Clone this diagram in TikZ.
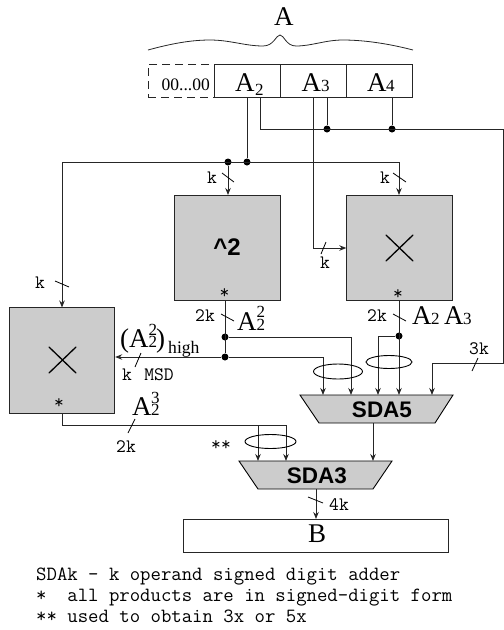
\documentclass[tikz,border=0pt]{standalone}
\usepackage{fontspec}
\setmainfont{Liberation Serif}
\setsansfont{Liberation Sans}
\usetikzlibrary{arrows.meta}
\colorlet{boxgray}{black!20}
\tikzset{
  wire/.style={draw=black!85,line width=0.9pt},
  arr/.style={wire,-{Stealth[length=7pt,width=5.5pt]}},
  dotnode/.style={circle,fill=black,inner sep=0pt,minimum size=7pt},
  reg/.style={draw=black!85,line width=0.9pt,minimum width=66pt,minimum height=33pt,inner sep=0pt},
  unit/.style={draw=black!85,line width=0.9pt,fill=boxgray,minimum width=105.5pt,minimum height=105.5pt,inner sep=0pt},
  adder/.style={draw=black,line width=0.9pt,fill=boxgray},
  lab/.style={inner sep=0pt,font=\ttfamily\fontsize{19}{19}\selectfont},
  big/.style={inner sep=0pt,anchor=base west,font=\fontsize{27}{27}\selectfont},
  dig/.style={inner sep=0pt,anchor=base west,font=\fontsize{17}{17}\selectfont},
  slash/.style={draw=black,line width=0.8pt},
  loopring/.style={draw=black,line width=0.9pt},
  sdatext/.style={inner sep=0pt,font=\sffamily\bfseries\fontsize{22.5}{22.5}\selectfont},
  note/.style={inner sep=0pt,anchor=base west,font=\ttfamily\fontsize{20.2}{20.2}\selectfont}
}
\begin{document}
\begin{tikzpicture}[x=1pt,y=-1pt]
\useasboundingbox (0,0) rectangle (504,630);
% brace
\node[big] (lblA) at (274,25) {A};
\draw[black!85,line width=0.8pt] (148,50) .. controls (170,44) and (190,40) .. (210,40) .. controls (230,40) and (245,46) .. (263,46) .. controls (274,46) and (276,35) .. (280,35) .. controls (284,35) and (286,46) .. (296,46) .. controls (312,46) and (325,40) .. (343,40) .. controls (365,40) and (390,44) .. (413,50);
% register
\node[draw=black!85,dashed,dash pattern=on 8pt off 5pt,line width=0.8pt,minimum width=66pt,minimum height=33pt,inner sep=0pt] (zero) at (181,80.5) {};
\node[inner sep=0pt,anchor=base west,font=\fontsize{17.5}{17.5}\selectfont] (zerotxt) at (161.5,90) {00...00};
\node[reg] (a2) at (247,80.5) {};
\node[reg] (a3) at (313,80.5) {};
\node[reg] (a4) at (379.5,80.5) {};
\node[big] at (235,91.5) {A};
\node[dig] at (255,95) {2};
\node[big] at (301.5,91.5) {A};
\node[dig] at (321,91) {3};
\node[big] at (367,91.5) {A};
\node[dig] at (386,91) {4};
% units
\node[unit] (sq) at (227.5,248) {};
\node[unit] (mul) at (399.5,248) {};
\node[unit] (mull) at (62,360.5) {};
\node[inner sep=0pt,font=\sffamily\bfseries\fontsize{24}{24}\selectfont] at (227,247) {\^{}2};
\draw[line width=1.3pt,line cap=round] (386,235) -- (413,261) (386,261) -- (413,235);
\draw[line width=1.3pt,line cap=round] (49,347) -- (76,373) (49,373) -- (76,347);
\node[lab,anchor=base] at (224.5,298) {*};
\node[lab,anchor=base] at (398,299) {*};
\node[lab,anchor=base] at (59,408) {*};
% adders
\path[adder] (300,395) -- (453,395) -- (435,423) -- (319,423) -- cycle;
\path[adder] (239,461) -- (392,461) -- (373,489) -- (258,489) -- cycle;
\node[sdatext] (t5) at (382,409.5) {SDA5};
\node[sdatext] (t3) at (317,475.5) {SDA3};
\coordinate (s5top1) at (323,395);
\coordinate (s5top2) at (351,395);
\coordinate (s5top3) at (378,395);
\coordinate (s5top4) at (399,395);
\coordinate (s5top5) at (432,395);
\coordinate (s5bot) at (373,423);
\coordinate (s3top1) at (258,461);
\coordinate (s3top2) at (286,461);
\coordinate (s3top3) at (373,461);
% output
\node[draw=black!85,line width=0.9pt,minimum width=265pt,minimum height=33pt,inner sep=0pt] (b) at (315.5,535.5) {};
\node[big] at (308,542) {B};
% dots
\node[dotnode] (d1) at (247,162) {};
\node[dotnode] (d2) at (228,162) {};
\node[dotnode] (d3) at (327,129) {};
\node[dotnode] (d4) at (392,129) {};
\node[dotnode] (d5) at (225,337) {};
\node[dotnode] (d6) at (225,357) {};
\node[dotnode] (d7) at (399,336) {};
% connectors
\draw[wire] (247,97) -- (d1);
\draw[arr] (d2) -- (228,195);
\draw[arr] (62,162) -- (62,307.5);
\draw[wire] (62,162) -- (399,162);
\draw[arr] (399,162) -- (399,195);
\draw[wire] (260,97) -- (260,129) -- (503,129) -- (503,363) -- (432,363);
\draw[arr] (432,363) -- (s5top5);
\draw[wire] (327,97) -- (d3);
\draw[wire] (392,97) -- (d4);
\draw[wire] (313,97) -- (313,248);
\draw[arr] (313,248) -- (mul.west);
\draw[wire] (225,301) -- (d6);
\draw[wire] (d5) -- (351,337);
\draw[arr] (351,337) -- (s5top2);
\draw[arr] (d6) -- (mull.east |- d6);
\draw[wire] (d6) -- (323,357);
\draw[arr] (323,357) -- (s5top1);
\draw[arr] (399,301) -- (s5top4);
\draw[wire] (d7) -- (378,336);
\draw[arr] (378,336) -- (s5top3);
\draw[wire] (62,413) -- (62,425) -- (286,425);
\draw[arr] (286,425) -- (s3top2);
\draw[arr] (258,425) -- (s3top1);
\draw[arr] (s5bot) -- (s3top3);
\draw[arr] (316,489) -- (316,519);
% rings
\draw[loopring] (338,371.5) ellipse (24.5pt and 7.5pt);
\draw[loopring] (389,362) ellipse (23pt and 6.5pt);
\draw[loopring] (270.5,441.5) ellipse (25.5pt and 7pt);
% slashes and labels
\draw[slash] (222,173) -- (234,182);
\node[lab] at (212,178) {k};
\draw[slash] (393,173) -- (406,182);
\node[lab] at (385,178) {k};
\draw[slash] (55,281) -- (69,287);
\node[lab] at (40,283) {k};
\draw[slash] (326,242) -- (321,254);
\node[lab] at (325,263) {k};
\draw[slash] (221,314) -- (234,321);
\node[lab] at (205,316) {2k};
\draw[slash] (393,314) -- (406,321);
\node[lab] at (377,316) {2k};
\draw[slash] (141,353) -- (135,367);
\node[lab] at (127,375) {k};
\node[lab] at (159,375) {MSD};
\draw[slash] (135,419) -- (128,433);
\node[lab] at (126,447) {2k};
\draw[slash] (478,358) -- (472,371);
\node[lab] at (479,349) {3k};
\draw[slash] (308,497) -- (323,503);
\node[lab] at (339,505) {4k};
\node[lab] at (221,446) {**};
% math labels
\node[big] at (237,330) {A};
\node[dig] at (256.5,330) {2};
\node[dig] at (256.5,317) {2};
\node[big] at (412,324) {A};
\node[dig] at (431,324) {2};
\node[big] at (444,324) {A};
\node[dig] at (463,324) {3};
\node[big] at (120,347) {(A};
\node[dig] at (148.5,347) {2};
\node[dig] at (148.5,335) {2};
\node[big] at (156,347) {)};
\node[inner sep=0pt,anchor=base west,font=\fontsize{17.6}{17.6}\selectfont] at (168,353) {high};
\node[big] at (132,415) {A};
\node[dig] at (151,415) {2};
\node[dig] at (151,403) {3};
% notes
\node[note] at (36,580.5) {SDAk - k operand signed digit adder};
\node[note] at (36,601) {*\ \ all products are in signed-digit form};
\node[note] at (36,622) {**\ used to obtain 3x or 5x};
\end{tikzpicture}
\end{document}
